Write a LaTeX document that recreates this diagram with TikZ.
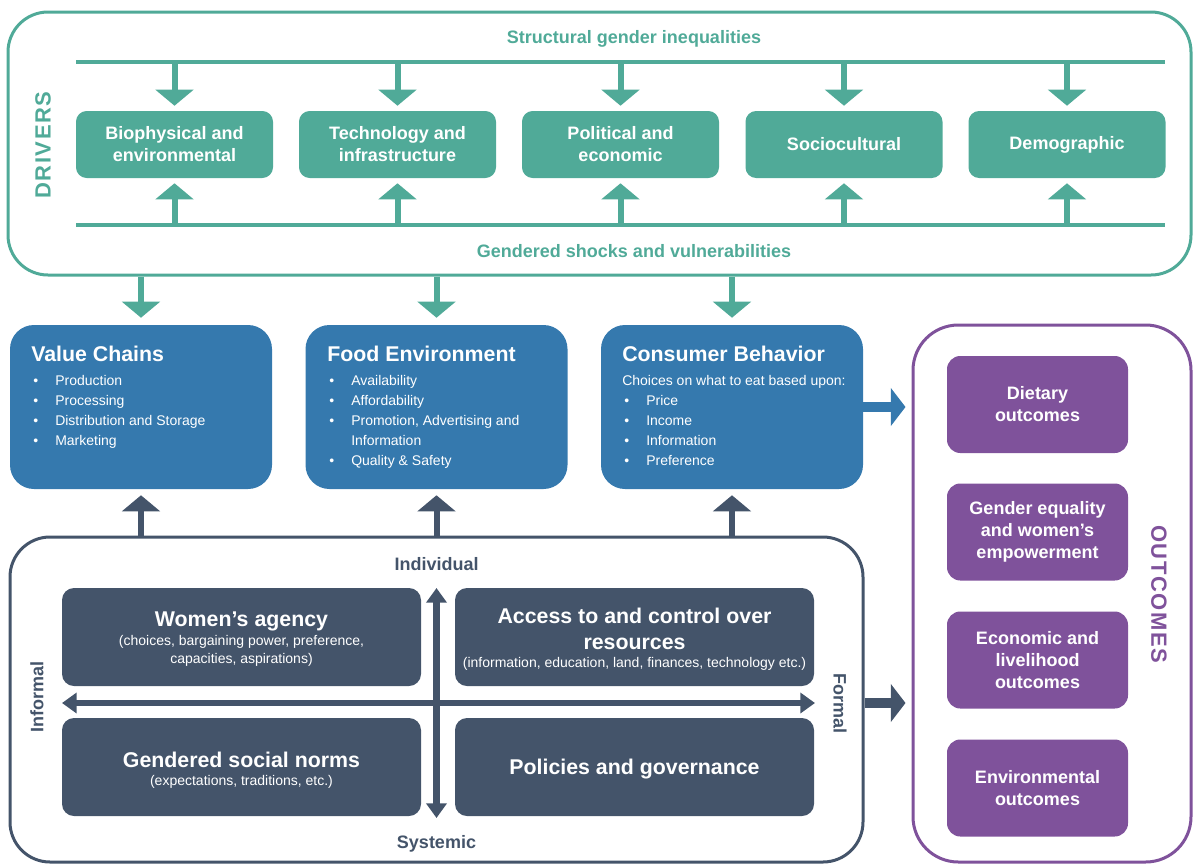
\documentclass[tikz,border=0pt]{standalone}
\usepackage{fontspec}
\setmainfont{Liberation Sans}
\newfontfamily\spacedfont[LetterSpace=7]{Liberation Sans}
\usetikzlibrary{arrows.meta}
\definecolor{drvteal}{RGB}{80,170,152}
\definecolor{fsblue}{RGB}{53,121,174}
\definecolor{slate}{RGB}{68,84,106}
\definecolor{outpurple}{RGB}{127,82,155}
\newcommand{\itm}{\hspace*{1.5pt}\makebox[16.5pt][l]{\textbullet}}
\newcommand{\itmc}{\hspace*{18pt}}

\begin{document}
\begin{tikzpicture}[x=0.75pt,y=-0.75pt,
	frm/.style={draw,line width=2.25pt,rounded corners=30pt,inner sep=0pt},
	drv/.style={fill=drvteal,rounded corners=8pt,text=white,font=\bfseries\fontsize{13.5}{16.5}\selectfont,align=center,minimum width=147.75pt,minimum height=50.25pt,inner sep=0pt},
	fsbox/.style={fill=fsblue,rounded corners=18pt,minimum width=196.5pt,minimum height=123pt,inner sep=0pt},
	hd/.style={anchor=west,text=white,font=\bfseries\fontsize{16}{19}\selectfont,inner sep=0pt},
	blt/.style={anchor=west,text=white,font=\fontsize{10.5}{12}\selectfont,inner sep=0pt,text height=8pt,text depth=2.5pt},
	quad/.style={fill=slate,rounded corners=9pt,minimum width=269.25pt,minimum height=73.5pt,inner sep=0pt},
	qt/.style={text=white,font=\bfseries\fontsize{16}{19.5}\selectfont,align=center,inner sep=0pt},
	qs/.style={text=white,font=\fontsize{10.5}{13.5}\selectfont,align=center,inner sep=0pt},
	outb/.style={fill=outpurple,rounded corners=10pt,text=white,font=\bfseries\fontsize{13.5}{16.5}\selectfont,align=center,minimum width=135.75pt,minimum height=72.75pt,inner sep=0pt},
	lbl/.style={font=\bfseries\fontsize{13.5}{16}\selectfont,inner sep=0pt},
	bus/.style={drvteal,line width=2.75pt},
	blk/.style={line width=4.5pt,-{Triangle[width=28pt,length=12pt]}},
	blkh/.style={line width=7.5pt,-{Triangle[width=28pt,length=11pt]}},
	dbl/.style={slate,line width=5pt,{Triangle[width=15pt,length=11pt]}-{Triangle[width=15pt,length=11pt]}}
]
	\useasboundingbox (0,0) rectangle (1193,865);
	% drivers
	\node[frm,drvteal,minimum width=887.25pt,minimum height=197.25pt] (drivers) at (599.5,143.5) {};
	\node[drvteal,rotate=90,inner sep=0pt,font=\spacedfont\bfseries\fontsize{16.5}{18}\selectfont] (drvlbl) at (43,145) {DRIVERS};
	\node[lbl,drvteal] (sgi) at (634,39) {Structural gender inequalities};
	\node[lbl,drvteal] (gsv) at (634,251) {Gendered shocks and vulnerabilities};
	\coordinate (tl) at (76,62);
	\coordinate (tr) at (1165,62);
	\coordinate (bl) at (76,225);
	\coordinate (br) at (1165,225);
	\draw[bus] (tl) -- (tr); %top line
	\draw[bus] (bl) -- (br); %bottom line
	\foreach \n/\x/\t in {b1/174.5/{Biophysical and\\environmental},b2/397.5/{Technology and\\infrastructure},b3/620.5/{Political and\\economic},b4/844/Sociocultural,b5/1067/Demographic}{
		\node[drv] (\n) at (\x,144.5) {\t};
		\draw[blk,drvteal] (\n.north |- tl) -- ([yshift=3.75pt]\n.north);
		\draw[blk,drvteal] (\n.south |- bl) -- ([yshift=-3.75pt]\n.south);
	}
	% food system
	\node[fsbox] (vc) at (141,407) {};
	\node[fsbox] (fe) at (436.5,407) {};
	\node[fsbox] (cb) at (732,407) {};
	\node[hd] (vct) at (31,354) {Value Chains};
	\node[hd] (fet) at (327,354) {Food Environment};
	\node[hd] (cbt) at (622,354) {Consumer Behavior};
	\foreach \t [count=\k] in {\itm Production,\itm Processing,\itm Distribution and Storage,\itm Marketing}
		\node[blt] (vc\k) at (31,{362+20*\k}) {\t};
	\foreach \t [count=\k] in {\itm Availability,\itm Affordability,{\itm Promotion, Advertising and},\itmc Information,\itm Quality \& Safety}
		\node[blt] (fe\k) at (327,{362+20*\k}) {\t};
	\foreach \t [count=\k] in {Choices on what to eat based upon:,\itm Price,\itm Income,\itm Information,\itm Preference}
		\node[blt] (cb\k) at (622,{362+20*\k}) {\t};
	% gender frame
	\node[frm,slate,minimum width=639.75pt,minimum height=243.75pt] (gender) at (436.5,699.5) {};
	\node[quad] (wa) at (241.5,637) {};
	\node[quad] (ac) at (634.5,637) {};
	\node[quad] (gn) at (241.5,767) {};
	\node[quad] (pg) at (634.5,767) {};
	\node[qt] (wat) at (241.5,621) {Women’s agency};
	\node[qs] (was) at (241.5,651) {(choices, bargaining power, preference,\\capacities, aspirations)};
	\node[qt] (act) at (634.5,629) {Access to and control over\\resources};
	\node[qs] (acs) at (634.5,664) {(information, education, land, finances, technology etc.)};
	\node[qt] (gnt) at (241.5,760) {Gendered social norms};
	\node[qs] (gns) at (241.5,782) {(expectations, traditions, etc.)};
	\node[qt] (pgt) at (634.5,769) {Policies and governance};
	\coordinate (hl) at (62,703);
	\coordinate (hr) at (815,703);
	\coordinate (vt) at (436.5,588);
	\coordinate (vb) at (436.5,818);
	\draw[dbl] (hl) -- (hr); %informal-formal
	\draw[dbl] (vt) -- (vb); %individual-systemic
	\node[lbl,slate] (indv) at (436.5,564) {Individual};
	\node[lbl,slate] (syst) at (436.5,844) {Systemic};
	\node[lbl,slate,rotate=90] (infm) at (37,697) {Informal};
	\node[lbl,slate,rotate=-90] (form) at (840,703) {Formal};
	% outcomes
	\node[frm,outpurple,minimum width=208.5pt,minimum height=402.75pt,rounded corners=34pt] (outcomes) at (1052,593.5) {};
	\node[outpurple,rotate=-90,inner sep=0pt,font=\spacedfont\bfseries\fontsize{16.5}{18}\selectfont] (outlbl) at (1159,594) {OUTCOMES};
	\node[outb] (o1) at (1037.5,404.5) {Dietary\\outcomes};
	\node[outb] (o2) at (1037.5,532) {Gender equality\\and women’s\\empowerment};
	\node[outb] (o3) at (1037.5,660) {Economic and\\livelihood\\outcomes};
	\node[outb] (o4) at (1037.5,788) {Environmental\\outcomes};
	% connectors
	\foreach \n in {vc,fe,cb}{
		\draw[blk,drvteal] (\n.north |- drivers.south) -- ([yshift=5.25pt]\n.north);
		\draw[blk,slate] (\n.south |- gender.north) -- ([yshift=-4.5pt]\n.south);
	}
	\draw[blkh,fsblue] (cb.east) -- ([xshift=-4.5pt]outcomes.west |- cb.east);
	\draw[blkh,slate] (gender.east |- hr) -- ([xshift=-4.5pt]outcomes.west |- hr);
\end{tikzpicture}
\end{document}
